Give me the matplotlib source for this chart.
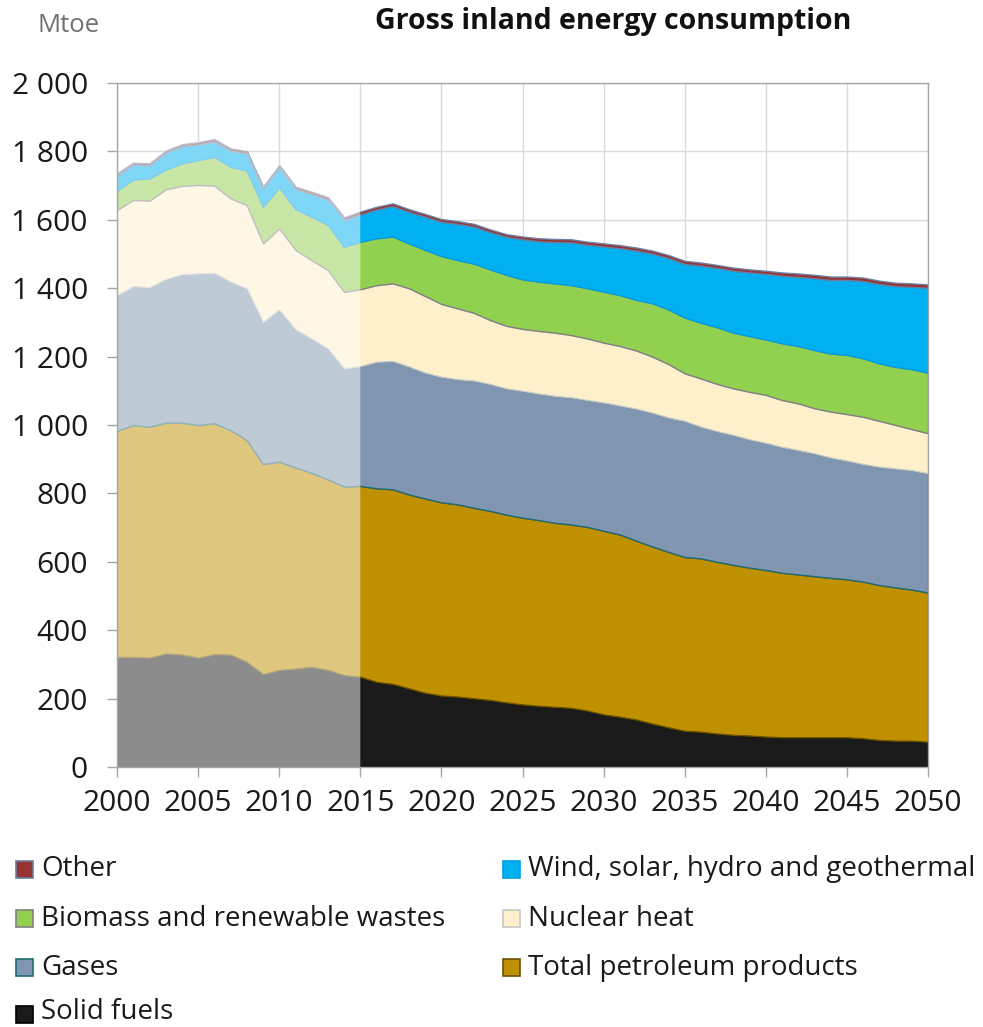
import matplotlib
matplotlib.use("Agg")
import matplotlib.pyplot as plt
from matplotlib.patches import Rectangle
from matplotlib.ticker import FuncFormatter, MultipleLocator
import numpy as np

plt.rcParams['font.family'] = ['Open Sans', 'DejaVu Sans']

# ---- data (Mtoe) -------------------------------------------------------
years = list(range(2000, 2051))

solid_fuels = [322, 322, 320, 332, 329, 320, 330, 329, 308, 272, 284, 288, 293, 284, 269, 264,
               249, 243, 230, 217, 209, 206, 201, 196, 189, 183, 179, 176, 173, 165, 154,
               147, 139, 127, 116, 106, 103, 98, 94, 92, 89, 87, 87, 87, 87, 87,
               84, 79, 77, 77, 74]
petroleum = [661, 678, 675, 675, 678, 680, 675, 656, 648, 614, 609, 588, 567, 557, 551, 558,
             566, 569, 567, 568, 565, 562, 557, 553, 549, 546, 543, 538, 536, 537, 537,
             533, 523, 518, 513, 508, 507, 502, 497, 491, 487, 481, 476, 471, 466, 462,
             458, 453, 448, 442, 436]
gases = [397, 406, 408, 420, 434, 443, 440, 434, 444, 416, 445, 404, 393, 383, 346, 350,
         370, 375, 374, 368, 367, 366, 372, 371, 369, 371, 370, 371, 372, 371, 375,
         377, 386, 391, 393, 398, 385, 382, 380, 375, 372, 368, 364, 359, 352, 347,
         344, 346, 348, 349, 349]
nuclear = [249, 252, 253, 262, 258, 259, 255, 244, 243, 229, 237, 232, 229, 229, 223, 225,
           224, 227, 229, 224, 213, 207, 198, 187, 183, 181, 183, 185, 182, 180, 175,
           174, 170, 164, 156, 139, 141, 138, 136, 139, 140, 137, 136, 132, 134, 136,
           138, 134, 127, 120, 117]
biomass = [56, 60, 65, 58, 66, 73, 84, 92, 101, 107, 120, 119, 127, 132, 132, 139,
           137, 137, 131, 135, 140, 141, 144, 148, 149, 145, 144, 144, 146, 147, 149,
           149, 148, 156, 160, 163, 163, 166, 163, 163, 162, 166, 168, 170, 170, 173,
           171, 168, 170, 175, 177]
wind_solar = [45, 43, 38, 49, 50, 45, 45, 47, 50, 52, 58, 59, 66, 74, 79, 80,
              84, 89, 92, 97, 100, 106, 108, 109, 111, 117, 118, 121, 125, 127, 132,
              137, 144, 145, 150, 157, 167, 173, 181, 186, 192, 197, 202, 210, 215, 219,
              226, 232, 236, 241, 248]
other = [6, 6, 6, 6, 6, 7, 7, 7, 7, 7, 7, 7, 7, 7, 7, 8,
         8, 8, 8, 8, 8, 8, 8, 8, 8, 8, 9, 9, 9, 9, 9,
         9, 9, 9, 9, 9, 9, 9, 9, 9, 9, 10, 10, 10, 10, 10,
         10, 10, 10, 10, 10]

last_historical_year = 2015

series = [
    ("Solid fuels", solid_fuels, "#1A1A1A", "#000000"),
    ("Total petroleum products", petroleum, "#BF9000", "#6B5200"),
    ("Gases", gases, "#8096B0", "#1F6B75"),
    ("Nuclear heat", nuclear, "#FFF0CC", "#C8C8C8"),
    ("Biomass and renewable wastes", biomass, "#92D050", "#808080"),
    ("Wind, solar, hydro and geothermal", wind_solar, "#00B0F0", "#00A0E0"),
    ("Other", other, "#993333", "#6C7FA0"),
]

# ---- figure ------------------------------------------------------------
W, H = 983, 1027
fig = plt.figure(figsize=(W / 100, H / 100), dpi=100)


def fx(x):
    return x / W


def fy(y):
    return 1 - y / H


ax = fig.add_axes([fx(117), fy(767), (928 - 117) / W, (767 - 83) / H])

x = np.array(years)
base = np.zeros(len(years))
for name, vals, face, edge in series:
    top = base + np.array(vals)
    ax.fill_between(x, base, top, facecolor=face, edgecolor=edge, linewidth=1.0, zorder=2)
    base = top

# historical years shown faded
hist = x <= last_historical_year
ax.fill_between(x[hist], 0, base[hist] + 4, facecolor="white", alpha=0.5,
                linewidth=0, zorder=3)

ax.set_xlim(2000, 2050)
ax.set_ylim(0, 2000)
ax.xaxis.set_major_locator(MultipleLocator(5))
ax.yaxis.set_major_locator(MultipleLocator(200))
ax.yaxis.set_major_formatter(FuncFormatter(lambda v, p: f"{v:,.0f}".replace(",", " ")))

ax.set_axisbelow(True)
ax.grid(True, color="#D9D9D9", linewidth=1.0, zorder=0)
for sp in ax.spines.values():
    sp.set_color("#A6A6A6")
    sp.set_linewidth(1.0)
    sp.set_zorder(4)

ax.tick_params(axis="both", direction="out", length=7, width=1, color="#A6A6A6",
               labelsize=21.5, labelcolor="#1A1A1A")
ax.tick_params(axis="y", pad=14)
ax.tick_params(axis="x", pad=9)

# ---- titles ------------------------------------------------------------
fig.text(fx(37), fy(25), "Mtoe", fontsize=18.5, color="#707070", va="center", ha="left")
fig.text(fx(375), fy(22), "Gross inland energy consumption", fontsize=20.5,
         fontweight="bold", color="#111111", va="center", ha="left")

# ---- legend ------------------------------------------------------------
lookup = {name: (face, edge) for name, vals, face, edge in series}
# (label, box left px, box centre px, text baseline px)
entries = [
    ("Other", 16, 869, 876),
    ("Biomass and renewable wastes", 16, 918, 925.5),
    ("Gases", 16, 967, 975),
    ("Solid fuels", 16, 1014, 1019),
    ("Wind, solar, hydro and geothermal", 503, 869, 876),
    ("Nuclear heat", 503, 918, 925.5),
    ("Total petroleum products", 503, 967, 975),
]
box = 17
for name, px, pc, pb in entries:
    face, edge = lookup[name]
    fig.patches.append(Rectangle((fx(px), fy(pc + box / 2)), box / W, box / H,
                                 facecolor=face, edgecolor=edge, linewidth=1.2,
                                 transform=fig.transFigure, figure=fig))
    fig.text(fx(px + box + 8), fy(pb), name, fontsize=20, color="#1A1A1A",
             va="baseline", ha="left")

fig.savefig("out.png", dpi=100)
